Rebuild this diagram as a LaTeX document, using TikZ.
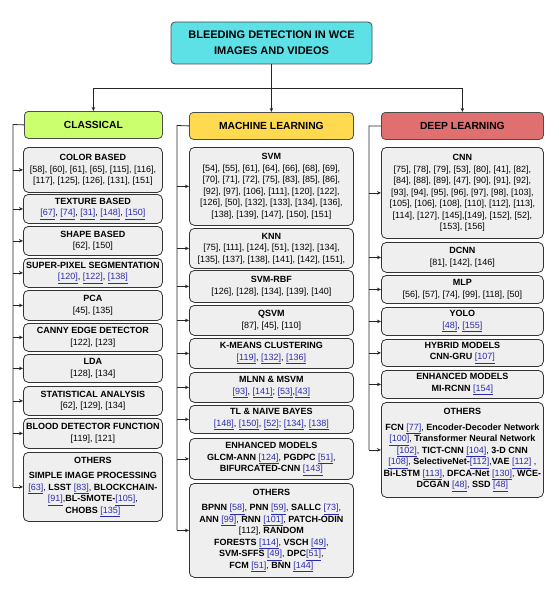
\documentclass[tikz,border=0pt]{standalone}
\usepackage{fontspec}
\setmainfont{Liberation Sans}
\usetikzlibrary{arrows.meta}
\definecolor{titlecol}{HTML}{5DE1E7}
\definecolor{clscol}{HTML}{CCFF6E}
\definecolor{mlcol}{HTML}{FFD94F}
\definecolor{dlcol}{HTML}{E07070}
\definecolor{subcol}{HTML}{EFEFEF}
\definecolor{linkblue}{HTML}{2A2AB0}
\newcommand\lk[1]{\textcolor{linkblue}{\underline{#1}}}
\newcommand\NL{\\\relax}
\tikzset{
  sub/.style={draw=black!80, fill=subcol, rounded corners=5pt, line width=0.8pt,
    align=center, font=\fontsize{9}{11.5}\selectfont, inner sep=1pt, anchor=north west},
  cat/.style={draw=black!70, rounded corners=4pt, line width=0.8pt,
    font=\fontsize{10.3}{12}\selectfont\bfseries, anchor=north west, inner sep=0pt},
  conn/.style={line width=0.8pt, draw=black!85},
  arr/.style={conn, -{Stealth[length=4pt,width=3.5pt]}},
  colA/.style={sub, minimum width=139pt},
  colB/.style={sub, minimum width=164pt},
  colC/.style={sub, minimum width=162pt},
}
\begin{document}
\begin{tikzpicture}[x=1pt,y=-1pt]
\useasboundingbox (0,0) rectangle (559,594);
% title
\node[draw=black!70, fill=titlecol, rounded corners=4pt, line width=0.8pt, align=center,
  font=\fontsize{11}{16}\selectfont\bfseries, minimum width=201pt, minimum height=42pt, inner sep=0pt]
  (t) at (271.5,43) {BLEEDING DETECTION IN WCE\\IMAGES AND VIDEOS};
% categories
\node[cat, fill=clscol, minimum width=138pt, minimum height=27pt] (cls) at (24,111) {CLASSICAL};
\node[cat, fill=mlcol, minimum width=164pt, minimum height=27pt] (ml) at (189,112) {MACHINE LEARNING};
\node[cat, fill=dlcol, minimum width=162pt, minimum height=27pt] (dl) at (381,112) {DEEP LEARNING};
\coordinate (j) at (271.5,88);
\draw[conn] (t.south) -- (j);
\draw[arr] (j) -- (ml.north);
\draw[arr] (j) -| (cls.north);
\draw[arr] (j) -| (dl.north);

% classical column
\node[colA, minimum height=45pt] (c1) at (23,147) {\textbf{COLOR BASED}\NL[58], [60], [61], [65], [115], [116],\\\relax[117], [125], [126], [131], [151]};
\node[colA, minimum height=29pt] (c2) at (23,194) {\textbf{TEXTURE BASED}\\\lk{[67]}, \lk{[74]}, \lk{[31]}, \lk{[148]}, \lk{[150]}};
\node[colA, minimum height=29pt] (c3) at (23,226) {\textbf{SHAPE BASED}\NL[62], [150]};
\node[colA, minimum height=29pt] (c4) at (23,258) {\textbf{SUPER-PIXEL SEGMENTATION}\\\lk{[120]}, \lk{[122]}, \lk{[138]}};
\node[colA, minimum height=30pt] (c5) at (23,290) {\textbf{PCA}\NL[45], [135]};
\node[colA, minimum height=28pt] (c6) at (23,323) {\textbf{CANNY EDGE DETECTOR}\NL[122], [123]};
\node[colA, minimum height=28pt] (c7) at (23,354) {\textbf{LDA}\NL[128], [134]};
\node[colA, minimum height=29pt] (c8) at (23,386) {\textbf{STATISTICAL ANALYSIS}\NL[62], [129], [134]};
\node[colA, minimum height=30pt] (c9) at (23,418) {\textbf{BLOOD DETECTOR FUNCTION}\NL[119], [121]};
\node[colA, minimum height=69pt] (c10) at (23,452) {\textbf{OTHERS}\\[4pt]\textbf{SIMPLE IMAGE PROCESSING}\\\lk{[63]}, \textbf{LSST} \lk{[83]}, \textbf{BLOCKCHAIN-}\\\lk{[91]},\textbf{BL-SMOTE-}\lk{[105]},\\\textbf{CHOBS} \lk{[135]}};
\coordinate (sa) at (13,124.5);
\draw[conn] (cls.west) -- (sa) -- (sa |- c10.west);
\foreach \n in {c1,c2,c3,c4,c5,c6,c7,c8,c9,c10} \draw[arr] (sa |- \n.west) -- (\n.west);

% machine learning column
\node[colB, minimum height=78pt] (m1) at (189,147) {\textbf{SVM}\NL[54], [55], [61], [64], [66], [68], [69],\\\relax[70], [71], [72], [75], [83], [85], [86],\\\relax[92], [97], [106], [111], [120], [122],\\\relax[126], [50], [132], [133], [134], [136],\\\relax[138], [139], [147], [150], [151]};
\node[colB, minimum height=40pt] (m2) at (189,228) {\textbf{KNN}\NL[75], [111], [124], [51], [132], [134],\\\relax[135], [137], [138], [141], [142], [151],};
\node[colB, minimum height=32pt] (m3) at (189,270) {\textbf{SVM-RBF}\NL[126], [128], [134], [139], [140]};
\node[colB, minimum height=30pt] (m4) at (189,305) {\textbf{QSVM}\NL[87], [45], [110]};
\node[colB, minimum height=30pt] (m5) at (189,338) {\textbf{K-MEANS CLUSTERING}\\\lk{[119]}, \lk{[132]}, \lk{[136]}};
\node[colB, minimum height=30pt] (m6) at (189,372) {\textbf{MLNN \& MSVM}\\\lk{[93]}, \lk{[141]}; \lk{[53]},\lk{[43]}};
\node[colB, minimum height=28pt] (m7) at (189,405) {\textbf{TL \& NAIVE BAYES}\\\lk{[148]}, \lk{[150]}, \lk{[52]}; \lk{[134]}, \lk{[138]}};
\node[colB, minimum height=41pt] (m8) at (189,438) {\textbf{ENHANCED MODELS}\\\textbf{GLCM-ANN} \lk{[124]}, \textbf{PGDPC} \lk{[51]},\\\textbf{BIFURCATED-CNN} \lk{[143]}};
\node[colB, minimum height=94pt] (m9) at (189,483) {\textbf{OTHERS}\\[4pt]\textbf{BPNN} \lk{[58]}, \textbf{PNN} \lk{[59]}, \textbf{SALLC} \lk{[73]},\\\textbf{ANN} \lk{[99]}, \textbf{RNN} \lk{[101]}, \textbf{PATCH-ODIN}\\\relax[112], \textbf{RANDOM}\\\textbf{FORESTS} \lk{[114]}, \textbf{VSCH} \lk{[49]},\\\textbf{SVM-SFFS} \lk{[49]}, \textbf{DPC}\lk{[51]},\\\textbf{FCM} \lk{[51]}, \textbf{BNN} \lk{[144]}};
\coordinate (sb) at (177,125.5);
\draw[conn] (ml.west) -- (sb) -- (sb |- m9.west);
\foreach \n in {m1,m2,m3,m4,m5,m6,m7,m8,m9} \draw[arr] (sb |- \n.west) -- (\n.west);

% deep learning column
\node[colC, minimum height=91pt] (d1) at (381,147) {\textbf{CNN}\NL[75], [78], [79], [53], [80], [41], [82],\\\relax[84], [88], [89], [47], [90], [91], [92],\\\relax[93], [94], [95], [96], [97], [98], [103],\\\relax[105], [106], [108], [110], [112], [113],\\\relax[114], [127], [145],[149], [152], [52],\\\relax[153], [156]};
\node[colC, minimum height=30pt] (d2) at (381,242) {\textbf{DCNN}\NL[81], [142], [146]};
\node[colC, minimum height=28pt] (d3) at (381,275) {\textbf{MLP}\NL[56], [57], [74], [99], [118], [50]};
\node[colC, minimum height=28pt] (d4) at (381,307) {\textbf{YOLO}\\\lk{[48]}, \lk{[155]}};
\node[colC, minimum height=27pt] (d5) at (381,339) {\textbf{HYBRID MODELS}\\\textbf{CNN-GRU} \lk{[107]}};
\node[colC, minimum height=28pt] (d6) at (381,370) {\textbf{ENHANCED MODELS}\\\textbf{MI-RCNN} \lk{[154]}};
\node[colC, minimum height=95pt] (d7) at (381,402) {\textbf{OTHERS}\\[4pt]\textbf{FCN} \lk{[77]}, \textbf{Encoder-Decoder Network}\\\lk{[100]}, \textbf{Transformer Neural Network}\\\lk{[102]}, \textbf{TICT-CNN} \lk{[104]}, \textbf{3-D CNN}\\\lk{[108]}, \textbf{SelectiveNet-}\lk{[112]},\textbf{VAE} \lk{[112]} ,\\\textbf{Bi-LSTM} \lk{[113]}, \textbf{DFCA-Net} \lk{[130]}, \textbf{WCE-}\\\textbf{DCGAN} \lk{[48]}, \textbf{SSD} \lk{[48]}};
\coordinate (sc) at (369,126);
\draw[conn] (dl.west) -- (sc) -- (sc |- d7.west);
\foreach \n in {d1,d2,d3,d4,d5,d6,d7} \draw[arr] (sc |- \n.west) -- (\n.west);
\end{tikzpicture}
\end{document}
